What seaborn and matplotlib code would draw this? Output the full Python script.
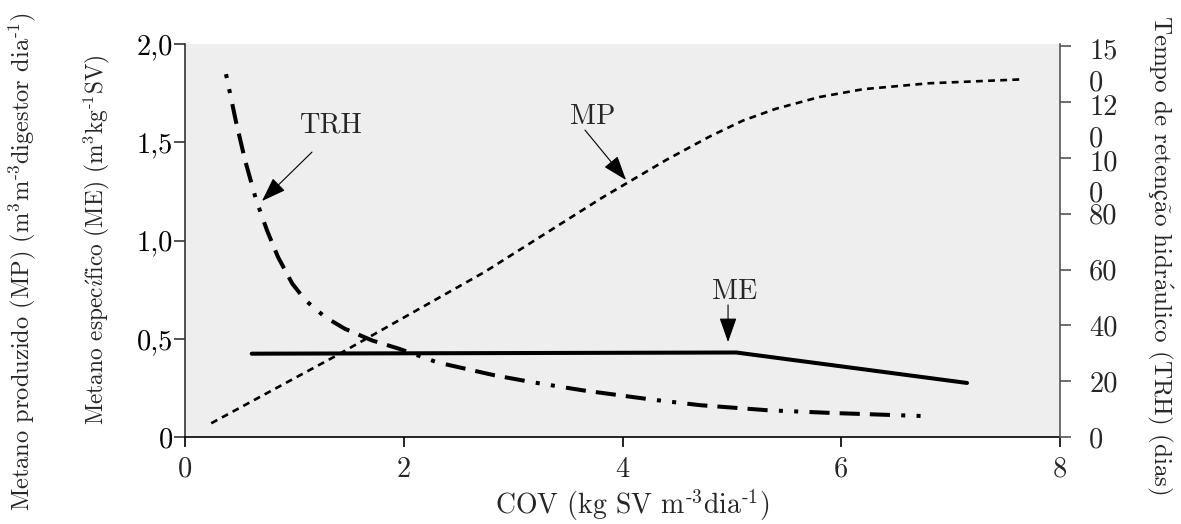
import matplotlib
matplotlib.use("Agg")
import matplotlib.pyplot as plt
import seaborn as sns
import numpy as np
import pandas as pd

# ---------------- data ----------------
cov_ticks = [0, 2, 4, 6, 8]
left_ticks = [0, 0.5, 1.0, 1.5, 2.0]
left_ticklabels = ["0", "0,5", "1,0", "1,5", "2,0"]
right_ticks = [0, 20, 40, 60, 80, 100, 120, 140]
right_ticklabels = ["0", "20", "40", "60", "80", "\n10\n0", "\n12\n0", "\n15\n0"]

# Metano produzido (MP)
mp_x = [0.24, 1.37, 2.74, 3.82, 4.40, 4.80, 5.10, 5.40, 5.80, 6.20, 6.80, 7.65]
mp_y = [0.07, 0.41, 0.84, 1.22, 1.41, 1.53, 1.61, 1.67, 1.73, 1.77, 1.80, 1.82]

# Metano especifico (ME)
me_x = [0.61, 5.04, 7.15]
me_y = [0.424, 0.430, 0.275]

# Tempo de retencao hidraulico (TRH)
trh_x = [0.375, 0.466, 0.55, 0.65, 0.75, 0.85, 0.98, 1.10, 1.28, 1.46, 1.71,
         1.95, 2.31, 2.83, 3.18, 3.64, 4.25, 4.71, 5.32, 5.92, 6.75]
trh_y = [130.0, 113.0, 99.0, 85.0, 74.0, 64.5, 55.0, 49.0, 43.0, 38.8, 34.6,
         31.7, 26.7, 22.1, 19.6, 16.7, 13.5, 11.4, 9.6, 8.6, 7.5]

# ---------------- style ----------------
sns.set_theme(style="ticks")
plt.rcParams["font.family"] = ["cmr10", "DejaVu Serif"]
plt.rcParams["mathtext.fontset"] = "cm"
plt.rcParams["axes.unicode_minus"] = False
TS = 20.5    # tick labels and curve labels

fig = plt.figure(figsize=(11.81, 5.24), dpi=100)
ax = fig.add_axes([185 / 1181, 1 - 437 / 524, 875 / 1181, 393 / 524])
ax.set_facecolor("#EEEEEE")
ax2 = ax.twinx()

sns.lineplot(x=mp_x, y=mp_y, ax=ax, color="black", lw=1.9,
             linestyle=(0, (2.6, 2.0)), sort=False)
sns.lineplot(x=me_x, y=me_y, ax=ax, color="black", lw=2.9,
             linestyle="-", sort=False)
sns.lineplot(x=trh_x, y=trh_y, ax=ax2, color="black", lw=2.9,
             linestyle=(22.8, (5, 2.5, 5, 2.5, 5, 2.8, 1, 2.8, 1, 2.8)), sort=False)

ax.set_xlim(0, 8)
ax.set_ylim(0, 2.0)
ax2.set_ylim(0, 140.8)

ax.set_xticks(cov_ticks)
ax.set_xticklabels([str(t) for t in cov_ticks], fontsize=TS)
ax.set_yticks(left_ticks)
ax.set_yticklabels(left_ticklabels, fontsize=TS)
ax2.set_yticks(right_ticks)
ax2.set_yticklabels(right_ticklabels, fontsize=TS)
for lab in ax2.get_yticklabels():
    lab.set_linespacing(1.25)

for a in (ax, ax2):
    a.spines["top"].set_visible(False)
ax.spines["right"].set_visible(False)
ax.spines["left"].set_color("#333333")
ax.spines["bottom"].set_color("black")
ax2.spines["left"].set_visible(False)
ax2.spines["bottom"].set_visible(False)
ax2.spines["right"].set_color("#555555")
for a in (ax, ax2):
    for s in a.spines.values():
        s.set_linewidth(1.2)

ax.tick_params(axis="y", direction="out", length=8, width=1.2, color="#333333",
               pad=0.5, labelcolor="black")
ax.tick_params(axis="x", direction="out", length=7, width=1.2, color="black",
               pad=7)
ax2.tick_params(axis="y", direction="out", length=8, width=1.2, color="#555555",
                pad=13)

# annotations
arrow_kw = dict(arrowstyle="-|>,head_length=0.85,head_width=0.3",
                mutation_scale=18, color="black", lw=0.8, shrinkA=0, shrinkB=0)
ax.annotate("", xy=(0.704, 1.201), xytext=(1.161, 1.450), arrowprops=arrow_kw)
ax.annotate("", xy=(4.032, 1.308), xytext=(3.657, 1.562), arrowprops=arrow_kw)
ax.annotate("", xy=(4.965, 0.483), xytext=(4.965, 0.672), arrowprops=arrow_kw)
ax.text(1.326, 1.585, "TRH", fontsize=TS, ha="center", va="center")
ax.text(3.730, 1.630, "MP", fontsize=TS, ha="center", va="center")
ax.text(5.029, 0.740, "ME", fontsize=TS, ha="center", va="center")

# axis titles
fig.text(632 / 1181, 1 - 505 / 524, r"COV (kg SV m$^{\text{-}3}$dia$^{\text{-}1}$)",
         fontsize=20, ha="center", va="center")
fig.text(22 / 1181, 1 - 262 / 524,
         r"Metano produzido (MP) (m$^3$m$^{\text{-}3}$digestor dia$^{\text{-}1}$)",
         fontsize=17.6, rotation=90, ha="center", va="center")
fig.text(97 / 1181, 1 - 240 / 524,
         r"Metano espec$\acute{\imath}$fico (ME) (m$^3$kg$^{\text{-}1}$SV)",
         fontsize=16.8, rotation=90, ha="center", va="center")
fig.text(1160 / 1181, 1 - 255 / 524,
         r"Tempo de reten$\mathrm{ç\tilde{a}}$o hidr$\mathrm{\acute{a}}$ulico (TRH) (dias)",
         fontsize=18, rotation=270, ha="center", va="center")

fig.savefig("out.png", dpi=100, facecolor="white")
